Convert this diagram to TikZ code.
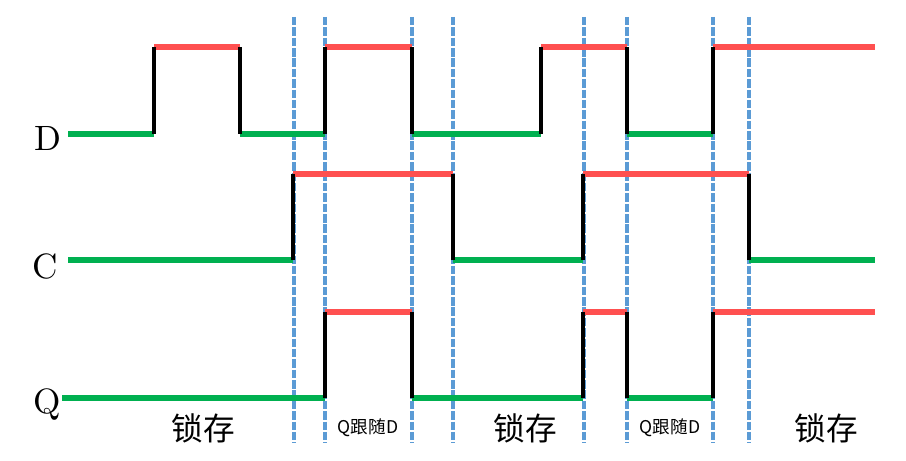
\documentclass[tikz,border=0pt]{standalone}
\usepackage{fontspec}
\newfontfamily\cjk{Noto Sans CJK SC}

\begin{document}
\begin{tikzpicture}[x=0.01cm, y=-0.01cm,
    lowLine/.style={draw=lowColour, line width=1.45pt},
    highLine/.style={draw=highColour, line width=1.45pt},
    edgeLine/.style={draw=black, line width=1.15pt},
    guideLine/.style={draw=guideColour, line width=1.05pt, dash pattern=on 2.4pt off 0.55pt},
    sigName/.style={font=\fontsize{10}{12}\selectfont},
    bigTag/.style={font=\cjk\light\fontsize{9}{10}\selectfont},
    smallTag/.style={font=\cjk\fontsize{5}{6}\selectfont}]
    \def\xEnd{875}
    \def\light{}

    \definecolor{lowColour}{HTML}{00B050}
    \definecolor{highColour}{HTML}{FF5050}
    \definecolor{guideColour}{HTML}{5B9BD5}

    \useasboundingbox (0,0) rectangle (906,461);

    % Dashed guides
    \foreach \x in {294,325,412,453,584,627,713,749}
        \draw[guideLine] (\x,17) -- (\x,443);

    % Signal D
    \def\hi{47} \def\lo{134}
    \foreach \a/\b in {68/154, 240/325, 412/541, 627/713}
        \draw[lowLine] (\a,\lo) -- (\b,\lo);
    \foreach \a/\b in {154/240, 325/412, 541/627, 713/\xEnd}
        \draw[highLine] (\a,\hi) -- (\b,\hi);
    \foreach \x in {154,240,325,412,541,627,713}
        \draw[edgeLine] (\x,\lo) -- (\x,\hi);
    \node[sigName] (labD) at (48,138) {D};

    % Signal C
    \def\hi{174} \def\lo{260}
    \foreach \a/\b in {68/293, 453/583, 749/\xEnd}
        \draw[lowLine] (\a,\lo) -- (\b,\lo);
    \foreach \a/\b in {293/453, 583/749}
        \draw[highLine] (\a,\hi) -- (\b,\hi);
    \foreach \x in {293,453,583,749}
        \draw[edgeLine] (\x,\lo) -- (\x,\hi);
    \node[sigName] (labC) at (45,266) {C};

    % Signal Q
    \def\hi{312} \def\lo{398}
    \foreach \a/\b in {62/325, 412/583, 627/713}
        \draw[lowLine] (\a,\lo) -- (\b,\lo);
    \foreach \a/\b in {325/412, 583/627, 713/\xEnd}
        \draw[highLine] (\a,\hi) -- (\b,\hi);
    \foreach \x in {325,412,583,627,713}
        \draw[edgeLine] (\x,\lo) -- (\x,\hi);
    \node[sigName] (labQ) at (47,405) {Q};

    % Phase labels
    \node[bigTag] (hold1) at (203,428) {锁存};
    \node[smallTag] (follow1) at (368,428) {Q跟随D};
    \node[bigTag] (hold2) at (525,428) {锁存};
    \node[smallTag] (follow2) at (670,428) {Q跟随D};
    \node[bigTag] (hold3) at (826,428) {锁存};

\end{tikzpicture}
\end{document}
